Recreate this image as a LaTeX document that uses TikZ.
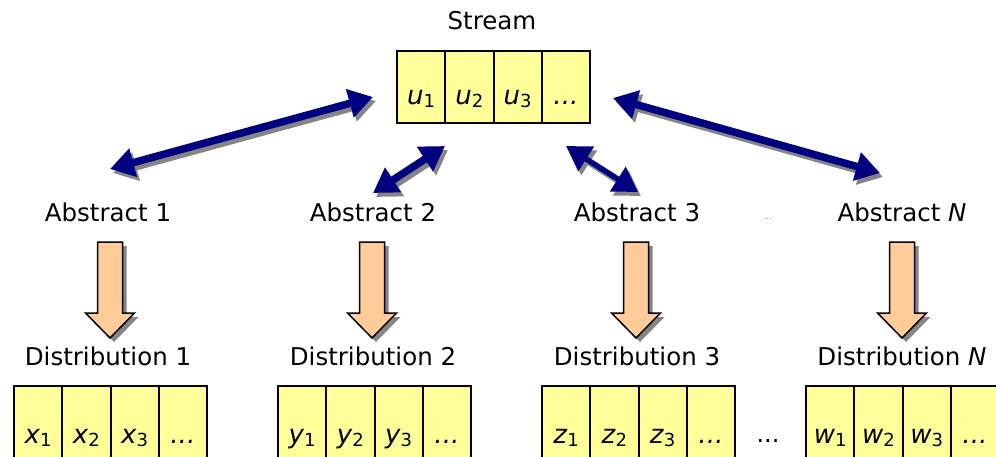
\documentclass[tikz,border=0pt]{standalone}
\usepackage{fontspec}
\setmainfont{DejaVu Sans}
\usetikzlibrary{arrows.meta}
\definecolor{cellyellow}{HTML}{FFFF99}
\definecolor{peach}{HTML}{FFCC99}
\definecolor{navyblue}{HTML}{000080}
\definecolor{shadowgray}{HTML}{858585}
\newcommand\cellsub[1]{\raisebox{-3pt}{\fontsize{18}{18}\selectfont #1}}
\tikzset{
  lbl/.style={font=\fontsize{24.5}{24.5}\selectfont, anchor=base, inner sep=0pt},
  cell/.style={draw=black, line width=2pt, fill=cellyellow, anchor=north west,
    minimum width=48.25pt, inner sep=0pt, text height=34pt, text depth=0pt,
    font=\fontsize{26}{26}\selectfont},
  topcell/.style={cell, minimum height=72pt},
  botcell/.style={cell, minimum height=80pt},
  dbl/.style={line width=7.5pt, navyblue,
    {Triangle[width=28pt,length=24pt]}-{Triangle[width=28pt,length=24pt]}},
  dblshadow/.style={dbl, shadowgray},
  pics/downarrow/.style={code={
    \fill[shadowgray] (-8.5,4) -- (16.5,4) -- (16.5,75) -- (28.5,75) -- (4,100) -- (-20.5,75) -- (-8.5,75) -- cycle;
    \draw[line width=1.5pt, fill=peach, line join=miter] (-12.5,0) -- (12.5,0) -- (12.5,71) -- (24.5,71) -- (0,96) -- (-24.5,71) -- (-12.5,71) -- cycle;
  }}
}
\begin{document}
\begin{tikzpicture}[x=1pt, y=-1pt]
\useasboundingbox (0,0) rectangle (996,456);
\clip (0,0) rectangle (996,456);
% Stream
\node[lbl] (stream) at (492,29) {Stream};
\node[topcell] (u1) at (396,50) {\textit{u}\cellsub{1}};
\node[topcell] (u2) at (444.25,50) {\textit{u}\cellsub{2}};
\node[topcell] (u3) at (492.5,50) {\textit{u}\cellsub{3}};
\node[topcell] (u4) at (540.75,50) {\textit{...}};
% Abstract labels
\node[lbl] (a1) at (108,221) {Abstract 1};
\node[lbl] (a2) at (373,221) {Abstract 2};
\node[lbl] (a3) at (637,221) {Abstract 3};
\node[lbl] (aN) at (902,221) {Abstract \textit{N}};
\node[anchor=base, inner sep=0pt, text=gray, font=\fontsize{8}{8}\selectfont] (adots) at (768,219) {...};
% Distribution labels
\node[lbl] (d1) at (108,365) {Distribution 1};
\node[lbl] (d2) at (373,365) {Distribution 2};
\node[lbl] (d3) at (637,365) {Distribution 3};
\node[lbl] (dN) at (902,365) {Distribution \textit{N}};
% Bottom boxes
\node[botcell] (x1) at (13,385) {\textit{x}\cellsub{1}};
\node[botcell] (x2) at (61.25,385) {\textit{x}\cellsub{2}};
\node[botcell] (x3) at (109.5,385) {\textit{x}\cellsub{3}};
\node[botcell] (x4) at (157.75,385) {\textit{...}};
\node[botcell] (y1) at (277,385) {\textit{y}\cellsub{1}};
\node[botcell] (y2) at (325.25,385) {\textit{y}\cellsub{2}};
\node[botcell] (y3) at (373.5,385) {\textit{y}\cellsub{3}};
\node[botcell] (y4) at (421.75,385) {\textit{...}};
\node[botcell] (z1) at (541,385) {\textit{z}\cellsub{1}};
\node[botcell] (z2) at (589.25,385) {\textit{z}\cellsub{2}};
\node[botcell] (z3) at (637.5,385) {\textit{z}\cellsub{3}};
\node[botcell] (z4) at (685.75,385) {\textit{...}};
\node[anchor=base, inner sep=0pt, font=\fontsize{24}{24}\selectfont] (bdots) at (768,442) {...};
\node[botcell] (w1) at (805,385) {\textit{w}\cellsub{1}};
\node[botcell] (w2) at (853.25,385) {\textit{w}\cellsub{2}};
\node[botcell] (w3) at (901.5,385) {\textit{w}\cellsub{3}};
\node[botcell] (w4) at (949.75,385) {\textit{...}};
% Blue double arrows
\coordinate (e1a) at (110,169); \coordinate (e1b) at (373,97);
\coordinate (e2a) at (373,193); \coordinate (e2b) at (445,146);
\coordinate (e3a) at (566,146); \coordinate (e3b) at (638,192);
\coordinate (e4a) at (613,98);  \coordinate (e4b) at (880,173);
\draw[dblshadow] ([shift={(3,4)}]e1a) -- ([shift={(3,4)}]e1b);
\draw[dblshadow] ([shift={(3,4)}]e2a) -- ([shift={(3,4)}]e2b);
\draw[dblshadow, line width=5.5pt] ([shift={(3,4)}]e3a) -- ([shift={(3,4)}]e3b);
\draw[dblshadow] ([shift={(3,4)}]e4a) -- ([shift={(3,4)}]e4b);
\draw[dbl] (e1a) -- (e1b);
\draw[dbl] (e2a) -- (e2b);
\draw[dbl, line width=5.5pt] (e3a) -- (e3b);
\draw[dbl] (e4a) -- (e4b);
% Orange down arrows
\pic at (110,242) {downarrow};
\pic at (372,242) {downarrow};
\pic at (636,242) {downarrow};
\pic at (902,242) {downarrow};
\end{tikzpicture}
\end{document}
